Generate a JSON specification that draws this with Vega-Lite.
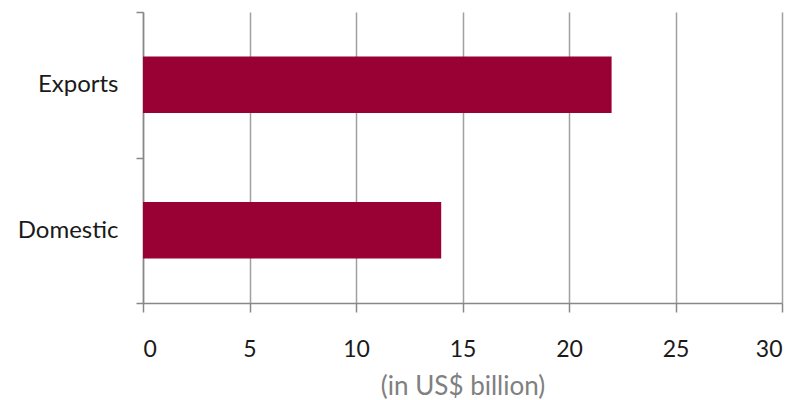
{
  "$schema": "https://vega.github.io/schema/vega-lite/v6.json",
  "width": 639,
  "height": 291,
  "autosize": {"type": "none"},
  "padding": {"left": 143, "top": 12, "right": 29, "bottom": 97},
  "config": {"view": {"stroke": null}, "font": "Lato"},
  "data": {"values": [
    {"category": "Exports", "value": 22},
    {"category": "Domestic", "value": 14}
  ]},
  "mark": {"type": "bar", "color": "#990033", "height": {"band": 0.39}},
  "encoding": {
    "y": {
      "field": "category", "type": "nominal", "sort": ["Exports", "Domestic"],
      "scale": {"paddingInner": 0, "paddingOuter": 0},
      "axis": {
        "title": null, "tickBand": "extent", "tickExtra": true, "tickSize": 7,
        "tickColor": "#888", "tickWidth": 1.5, "domainColor": "#888", "domainWidth": 1.5,
        "labelFontSize": 24, "labelColor": "#1a1a1a", "labelPadding": 18, "grid": false
      }
    },
    "x": {
      "field": "value", "type": "quantitative",
      "scale": {"domain": [0, 30], "nice": false},
      "axis": {
        "values": [0, 5, 10, 15, 20, 25, 30],
        "title": "(in US$ billion)", "titleFontSize": 26, "titleFontWeight": "normal",
        "titleColor": "#808080", "titlePadding": 12,
        "grid": true, "gridColor": "#a0a0a0", "gridWidth": 1.5,
        "tickSize": 9, "tickColor": "#888", "tickWidth": 1.5,
        "domainColor": "#888", "domainWidth": 1.5,
        "labelFontSize": 23, "labelColor": "#1a1a1a", "labelPadding": 26
      }
    }
  }
}
